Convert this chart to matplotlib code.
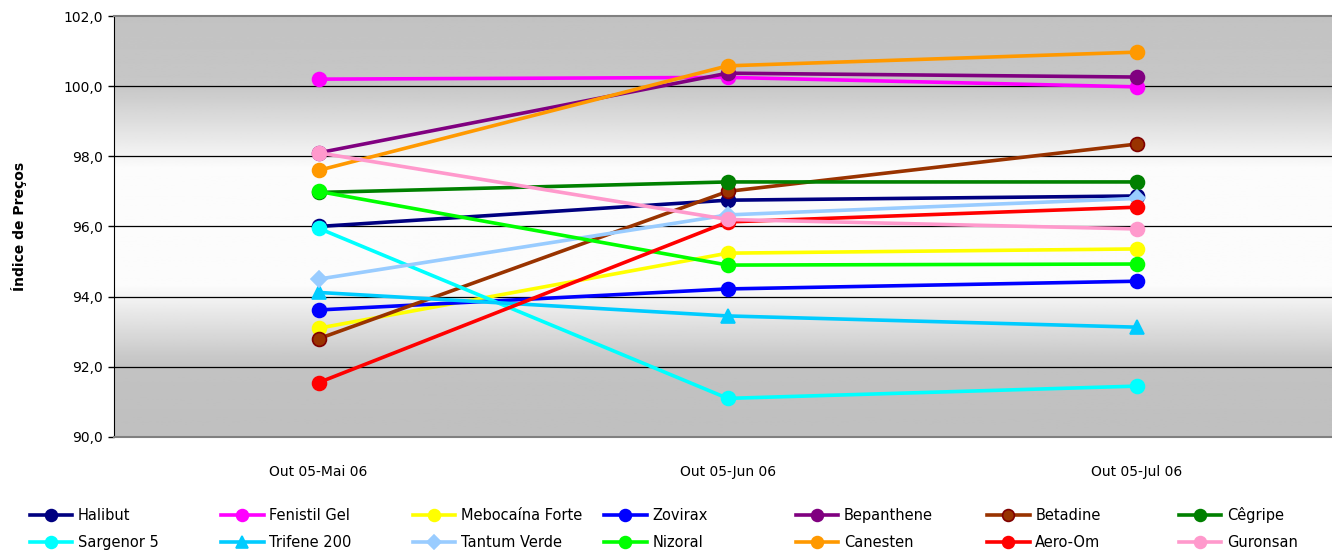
import matplotlib.pyplot as plt
import numpy as np

# Dados do gráfico
periodos = ['Out 05-Mai 06', 'Out 05-Jun 06', 'Out 05-Jul 06']

halibut = [96.0, 96.75, 96.87]
fenistil_gel = [100.2, 100.25, 99.98]
mebocaina_forte = [93.1, 95.24, 95.36]
zovirax = [93.62, 94.22, 94.44]
bepanthene = [98.1, 100.37, 100.26]
betadine = [92.8, 97.0, 98.35]
cegripe = [96.97, 97.27, 97.27]
sargenor_5 = [95.95, 91.1, 91.45]
trifene_200 = [94.12, 93.45, 93.13]
tantum_verde = [94.5, 96.33, 96.8]
nizoral = [97.0, 94.9, 94.93]
canesten = [97.6, 100.58, 100.97]
aero_om = [91.55, 96.13, 96.55]
guronsan = [98.1, 96.2, 95.93]

series = [
    ('Halibut', halibut, '#000080', 'o', '#000080'),
    ('Fenistil Gel', fenistil_gel, '#ff00ff', 'o', '#ff00ff'),
    ('Mebocaína Forte', mebocaina_forte, '#ffff00', 'o', '#ffff00'),
    ('Zovirax', zovirax, '#0000ff', 'o', '#0000ff'),
    ('Bepanthene', bepanthene, '#800080', 'o', '#800080'),
    ('Betadine', betadine, '#993300', 'o', '#800000'),
    ('Cêgripe', cegripe, '#008000', 'o', '#008000'),
    ('Sargenor 5', sargenor_5, '#00ffff', 'o', '#00ffff'),
    ('Trifene 200', trifene_200, '#00ccff', '^', '#00ccff'),
    ('Tantum Verde', tantum_verde, '#99ccff', 'D', '#99ccff'),
    ('Nizoral', nizoral, '#00ff00', 'o', '#00ff00'),
    ('Canesten', canesten, '#ff9900', 'o', '#ff9900'),
    ('Aero-Om', aero_om, '#ff0000', 'o', '#ff0000'),
    ('Guronsan', guronsan, '#ff99cc', 'o', '#ff99cc'),
]

plt.rcParams['font.family'] = ['DejaVu Sans']

fig = plt.figure(figsize=(13.32, 5.5), dpi=100)
ax = fig.add_axes([0.0856, 0.2055, 0.9144, 0.7654])

x = np.arange(len(periodos))
ax.set_xlim(-0.5, 2.477)
ax.set_ylim(90, 102)

# Fundo com gradiente cinzento/branco
ys = np.linspace(90, 102, 400)
g = np.interp(ys, [90, 92, 94.3, 97.7, 100, 102], [0.75, 0.76, 0.985, 0.985, 0.78, 0.76])
img = np.repeat(g[:, None], 2, axis=1)
ax.imshow(img, extent=[-0.5, 2.477, 90, 102], origin='lower', aspect='auto',
          cmap='gray', vmin=0, vmax=1, zorder=0)

for yv in [92, 94, 96, 98, 100]:
    ax.axhline(yv, color='black', lw=0.9, zorder=1)

handles = []
for nome, vals, cor, mk, borda in series:
    ms = 10 if mk in ('o', '^') else 8
    h, = ax.plot(x, vals, color=cor, lw=2.6, marker=mk, markersize=ms,
                 markerfacecolor=cor, markeredgecolor=borda, markeredgewidth=1.2,
                 label=nome, zorder=3)
    handles.append(h)

ax.set_xticks(x)
ax.set_xticklabels(periodos, fontsize=10)
ax.set_yticks(np.arange(90, 102.1, 2))
ax.set_yticklabels([f'{v:.1f}'.replace('.', ',') for v in np.arange(90, 102.1, 2)], fontsize=10)
ax.tick_params(axis='x', length=0, pad=20)
ax.tick_params(axis='y', length=4, width=1, pad=4)
ax.set_ylabel('Índice de Preços', fontsize=10, fontweight='bold', labelpad=26)

ax.spines['right'].set_visible(False)
ax.spines['left'].set_color('black')
ax.spines['top'].set_color('#808080')
ax.spines['bottom'].set_color('#808080')
ax.spines['top'].set_linewidth(1.5)
ax.spines['bottom'].set_linewidth(1.5)

# Legenda: 7 colunas com espaçamento fixo, 2 linhas
for c in range(7):
    par = [handles[c], handles[c + 7]]
    fig.legend(handles=par, labels=[h.get_label() for h in par], ncol=1,
               loc='lower left', bbox_to_anchor=((21 + 191.5 * c) / 1332, -0.016),
               frameon=False, fontsize=10.5, handlelength=2.9, handletextpad=0.4,
               labelspacing=0.8, borderaxespad=0.2, markerscale=0.85)

fig.savefig('out.png', dpi=100)
